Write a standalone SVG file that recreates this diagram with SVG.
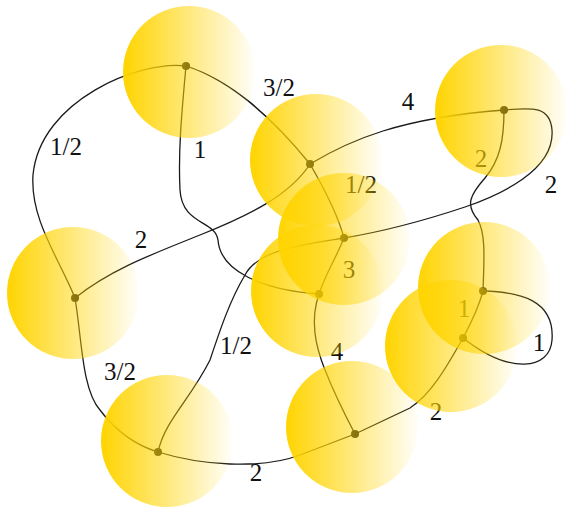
<svg xmlns="http://www.w3.org/2000/svg" width="567" height="507" viewBox="0 0 567 507">
<defs>
<linearGradient id="g" x1="0" y1="0" x2="1" y2="0">
<stop offset="0" stop-color="#FFD400" stop-opacity="1"/>
<stop offset="1" stop-color="#FFD400" stop-opacity="0.02"/>
</linearGradient>
</defs>
<rect width="567" height="507" fill="#fff"/>
<g id="edges" fill="none" stroke="#1a1a1a" stroke-width="1.3">
<path d="M186,66 C140,60 40,100 33,175 C30,220 60,260 75,298"/>
<path d="M186,66 C182,110 178,150 180,190 C182,225 215,220 218,240 C220,270 260,290 319,294"/>
<path d="M186,66 C230,80 270,115 310,164"/>
<path d="M310,164 C325,190 338,215 344,238"/>
<path d="M310,164 C350,140 400,118 504,110"/>
<path d="M75,298 C110,270 150,255 200,235 C250,215 290,195 310,164"/>
<path d="M504,110 C530,108 550,105 552,130 C555,170 500,195 465,207 C420,222 380,232 344,238"/>
<path d="M504,110 C504,140 500,160 485,178 C470,195 465,205 478,220 C486,235 484,260 483,291"/>
<path d="M344,238 C335,260 325,275 319,294"/>
<path d="M344,238 C300,245 258,250 245,275 C230,300 220,330 210,360 C190,400 165,420 158,452"/>
<path d="M319,294 C310,320 315,345 325,370 C335,395 345,415 355,434"/>
<path d="M483,291 C478,310 470,325 463,338"/>
<path d="M483,291 C520,292 555,300 552,340 C550,370 510,375 463,338"/>
<path d="M463,338 C445,370 430,395 410,408 L355,434"/>
<path d="M158,452 C200,465 260,470 300,455 L355,434"/>
<path d="M75,298 C82,340 82,390 100,410 C115,430 135,445 158,452"/>
</g>
<g id="labels" fill="#111">
<text font-family="Liberation Serif" font-size="25" text-anchor="middle" x="66" y="155">1/2</text>
<text font-family="Liberation Serif" font-size="25" text-anchor="middle" x="200" y="158">1</text>
<text font-family="Liberation Serif" font-size="25" text-anchor="middle" x="279" y="96">3/2</text>
<text font-family="Liberation Serif" font-size="25" text-anchor="middle" x="408" y="110">4</text>
<text font-family="Liberation Serif" font-size="25" text-anchor="middle" x="481" y="167">2</text>
<text font-family="Liberation Serif" font-size="25" text-anchor="middle" x="551" y="193">2</text>
<text font-family="Liberation Serif" font-size="25" text-anchor="middle" x="361" y="193">1/2</text>
<text font-family="Liberation Serif" font-size="25" text-anchor="middle" x="141" y="248">2</text>
<text font-family="Liberation Serif" font-size="25" text-anchor="middle" x="349" y="278">3</text>
<text font-family="Liberation Serif" font-size="25" text-anchor="middle" x="464" y="317">1</text>
<text font-family="Liberation Serif" font-size="25" text-anchor="middle" x="539" y="351">1</text>
<text font-family="Liberation Serif" font-size="25" text-anchor="middle" x="337" y="360">4</text>
<text font-family="Liberation Serif" font-size="25" text-anchor="middle" x="236" y="354">1/2</text>
<text font-family="Liberation Serif" font-size="25" text-anchor="middle" x="120" y="380">3/2</text>
<text font-family="Liberation Serif" font-size="25" text-anchor="middle" x="436" y="420">2</text>
<text font-family="Liberation Serif" font-size="25" text-anchor="middle" x="256" y="481">2</text>
</g>
<g id="dots" fill="#1a1a1a">
<circle cx="186" cy="66" r="4"/>
<circle cx="310" cy="164" r="4"/>
<circle cx="504" cy="110" r="4"/>
<circle cx="75" cy="298" r="4"/>
<circle cx="158" cy="452" r="4"/>
<circle cx="344" cy="238" r="4"/>
<circle cx="319" cy="294" r="4"/>
<circle cx="483" cy="291" r="4"/>
<circle cx="463" cy="338" r="4"/>
<circle cx="355" cy="434" r="4"/>
</g>
<g id="n1"><circle fill="url(#g)" cx="189" cy="72" r="66"/></g>
<g id="n2"><circle fill="url(#g)" cx="316" cy="160" r="66"/></g>
<g id="n3"><circle fill="url(#g)" cx="501" cy="111" r="66"/></g>
<g id="n4"><circle fill="url(#g)" cx="73" cy="293" r="66"/></g>
<g id="n5"><circle fill="url(#g)" cx="167" cy="441" r="66"/></g>
<g id="n6"><circle fill="url(#g)" cx="344" cy="239" r="66"/></g>
<g id="n7"><circle fill="url(#g)" cx="317" cy="291" r="66"/></g>
<g id="n8"><circle fill="url(#g)" cx="484" cy="288" r="66"/></g>
<g id="n9"><circle fill="url(#g)" cx="451" cy="346" r="66"/></g>
<g id="n10"><circle fill="url(#g)" cx="352" cy="427" r="66"/></g>
</svg>
